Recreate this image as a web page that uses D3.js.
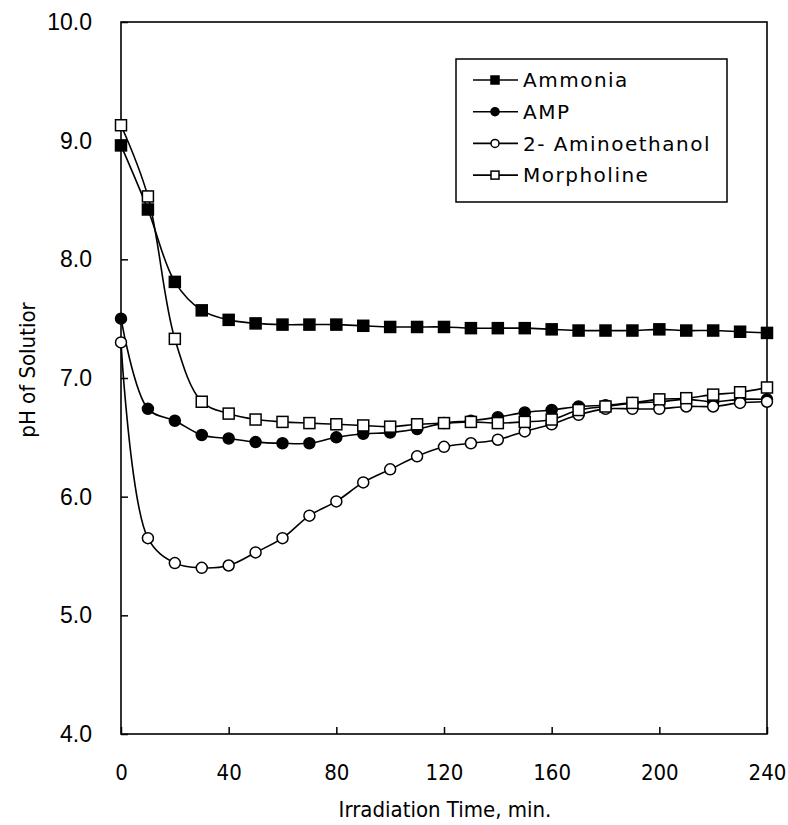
<!DOCTYPE html>
<html>
<head>
<meta charset="utf-8">
<script src="https://cdn.jsdelivr.net/npm/d3@7"></script>
<style>
    body { margin: 0; background: #fff; }
    .tick-y { font-family: "Liberation Sans", Arial, sans-serif; font-size: 23px; }
    .tick-x, .title { font-family: "Liberation Sans Narrow", "DejaVu Sans Condensed", "Liberation Sans", sans-serif; font-size: 22px; }
    .legend text { font-family: "DejaVu Sans", sans-serif; font-size: 20px; letter-spacing: 1.5px; }
</style>
</head>
<body>
<div id="chart"></div>
<script>
const times = d3.range(0, 241, 10);

const ammonia = [8.96, 8.42, 7.81, 7.57, 7.49, 7.46, 7.45, 7.45, 7.45, 7.44, 7.43, 7.43, 7.43,
    7.42, 7.42, 7.42, 7.41, 7.40, 7.40, 7.40, 7.41, 7.40, 7.40, 7.39, 7.38];
const amp = [7.50, 6.74, 6.64, 6.52, 6.49, 6.46, 6.45, 6.45, 6.50, 6.53, 6.54, 6.57, 6.62,
    6.64, 6.67, 6.71, 6.73, 6.76, 6.77, 6.79, 6.80, 6.82, 6.80, 6.82, 6.82];
const aminoethanol = [7.30, 5.65, 5.44, 5.40, 5.42, 5.53, 5.65, 5.84, 5.96, 6.12, 6.23, 6.34, 6.42,
    6.45, 6.48, 6.55, 6.61, 6.69, 6.74, 6.74, 6.74, 6.76, 6.76, 6.79, 6.80];
const morpholine = [9.13, 8.53, 7.33, 6.80, 6.70, 6.65, 6.63, 6.62, 6.61, 6.60, 6.59, 6.61, 6.62,
    6.63, 6.62, 6.63, 6.65, 6.73, 6.76, 6.79, 6.82, 6.83, 6.86, 6.88, 6.92];

const seriesNames = ['Ammonia', 'AMP', '2- Aminoethanol', 'Morpholine'];
const xTicks = [0, 40, 80, 120, 160, 200, 240];
const yTicks = [4, 5, 6, 7, 8, 9, 10];

const W = 788, H = 825;
const margin = {left: 121, top: 22, right: 21, bottom: 91};

const svg = d3.select('#chart')
    .append('svg')
    .attr('width', W)
    .attr('height', H);

const x = d3.scaleLinear().domain([0, 240]).range([margin.left, W - margin.right]);
const y = d3.scaleLinear().domain([4, 10]).range([H - margin.bottom, margin.top]);

// frame
svg.append('rect')
    .attr('x', x(0)).attr('y', y(10))
    .attr('width', x(240) - x(0)).attr('height', y(4) - y(10))
    .attr('fill', 'none').attr('stroke', '#000').attr('stroke-width', 1.6);

// axes with inward ticks
const yAxis = svg.append('g')
    .attr('transform', `translate(${x(0)},0)`)
    .call(d3.axisLeft(y).tickValues(yTicks).tickSizeInner(-7).tickSizeOuter(0)
        .tickPadding(29).tickFormat(d3.format('.1f')));
yAxis.select('.domain').remove();
yAxis.selectAll('text').attr('class', 'tick-y').attr('font-size', null).attr('font-family', null);
yAxis.selectAll('line').attr('stroke-width', 1.5);

const xAxis = svg.append('g')
    .attr('transform', `translate(0,${y(4)})`)
    .call(d3.axisBottom(x).tickValues(xTicks).tickSizeInner(-7).tickSizeOuter(0)
        .tickPadding(30));
xAxis.select('.domain').remove();
xAxis.selectAll('text').attr('class', 'tick-x').attr('font-size', null).attr('font-family', null);
xAxis.selectAll('line').attr('stroke-width', 1.5);

// titles
svg.append('text')
    .attr('class', 'title')
    .attr('x', (x(0) + x(240)) / 2 + 1)
    .attr('y', 817)
    .attr('text-anchor', 'middle')
    .text('Irradiation Time, min.');

svg.append('text')
    .attr('class', 'title')
    .attr('transform', `translate(35,${(y(4) + y(10)) / 2 - 8}) rotate(-90)`)
    .attr('text-anchor', 'middle')
    .text('pH of Solutior');

// series
const series = [
    {name: seriesNames[0], values: ammonia, shape: 'square', fill: '#000'},
    {name: seriesNames[1], values: amp, shape: 'circle', fill: '#000'},
    {name: seriesNames[2], values: aminoethanol, shape: 'circle', fill: '#fff'},
    {name: seriesNames[3], values: morpholine, shape: 'square', fill: '#fff'}
];

const line = d3.line()
    .x(d => x(d.t))
    .y(d => y(d.v))
    .curve(d3.curveCatmullRom.alpha(0.5));

function drawMarker(g, shape, fill, size) {
    if (shape === 'square') {
        return g.append('rect')
            .attr('x', -size / 2).attr('y', -size / 2)
            .attr('width', size).attr('height', size)
            .attr('fill', fill).attr('stroke', '#000').attr('stroke-width', 1.5);
    }
    return g.append('circle')
        .attr('r', size / 2)
        .attr('fill', fill).attr('stroke', '#000').attr('stroke-width', 1.5);
}

series.forEach(s => {
    const pts = times.map((t, i) => ({t: t, v: s.values[i]}));
    const g = svg.append('g');

    g.append('path')
        .datum(pts)
        .attr('fill', 'none')
        .attr('stroke', '#000')
        .attr('stroke-width', 1.6)
        .attr('d', line);

    g.selectAll('g.pt')
        .data(pts)
        .enter()
        .append('g')
        .attr('class', 'pt')
        .attr('transform', d => `translate(${x(d.t)},${y(d.v)})`)
        .each(function() { drawMarker(d3.select(this), s.shape, s.fill, 11); });
});

// legend
const legend = svg.append('g').attr('class', 'legend');
legend.append('rect')
    .attr('x', 456).attr('y', 59)
    .attr('width', 271).attr('height', 143)
    .attr('fill', '#fff').attr('stroke', '#000').attr('stroke-width', 1.5);

series.forEach((s, i) => {
    const cy = 80 + i * 31.7;
    const row = legend.append('g');
    row.append('line')
        .attr('x1', 473).attr('x2', 518)
        .attr('y1', cy).attr('y2', cy)
        .attr('stroke', '#000').attr('stroke-width', 1.6);
    const m = row.append('g').attr('transform', `translate(495,${cy})`);
    drawMarker(m, s.shape, s.fill, 8);
    row.append('text')
        .attr('x', 523).attr('y', cy)
        .attr('dy', '0.36em')
        .text(s.name);
});
</script>
</body>
</html>
